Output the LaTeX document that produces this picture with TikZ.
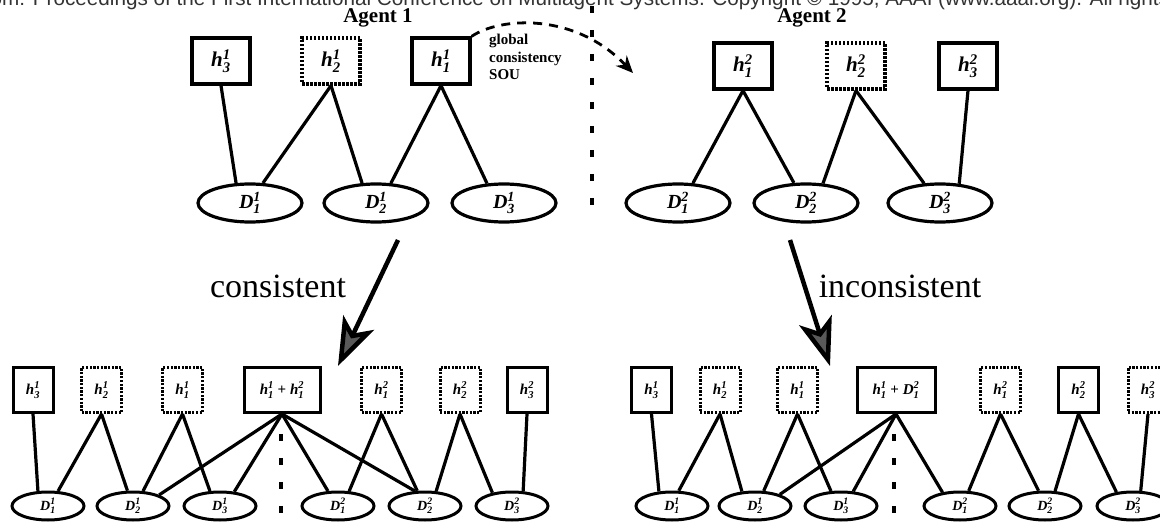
\documentclass[tikz,border=0pt]{standalone}
\usepackage{amsmath}
\usepackage{fontspec}
\setmainfont{Liberation Serif}
\newfontfamily\headfont{Liberation Sans}
\usetikzlibrary{shapes.geometric,arrows.meta}
\newcommand\hyp[3]{\textbf{\textit{#1}}$^{\textbf{\textit{#3}}}_{\textbf{\textit{#2}}}$}
\begin{document}
\begin{tikzpicture}[x=1pt,y=-1pt]
\def\ytop{61}
\def\ybot{390}
\tikzset{base/.style={draw,line width=3.2pt,inner sep=0pt},
hbox/.style={base,minimum width=58pt,minimum height=46pt,font=\fontsize{21}{24}\selectfont},
hdot/.style={hbox,dash pattern=on 2.5pt off 1.5pt},
dom/.style={base,ellipse,minimum width=104pt,minimum height=38pt,font=\fontsize{20}{24}\selectfont},
sbox/.style={base,line width=3pt,minimum width=40pt,minimum height=45pt,font=\fontsize{15}{18}\selectfont},
sdot/.style={sbox,dash pattern=on 2.3pt off 1.4pt},
sdom/.style={base,line width=3pt,ellipse,minimum width=72pt,minimum height=28pt,font=\fontsize{14}{17}\selectfont},
link/.style={line width=3.2pt},
sepline/.style={line width=4pt,dash pattern=on 7pt off 17pt},
big/.style={line width=4.5pt,-{Stealth[length=48pt,width=34pt,inset=12pt,fill=black!65]}},
soulink/.style={line width=2.8pt,dash pattern=on 9pt off 7pt,-{Stealth[length=17pt,width=15pt]}},
agent/.style={font=\fontsize{21}{24}\selectfont\bfseries},
verdict/.style={font=\fontsize{34}{40}\selectfont}}
\useasboundingbox (0,0) rectangle (1160,529);
\node[anchor=base west,inner sep=0pt,text=black!80,font=\headfont\fontsize{20.7}{24}\selectfont] at (-29,6) (HDR) {From: Proceedings of the First International Conference on Multiagent Systems. Copyright \textcopyright{} 1995, AAAI (www.aaai.org). All rights reserved.};
% agent 1
\node[agent] at (378,18) (AG1) {Agent 1};
\node[hbox] at (221,\ytop) (HA3) {\hyp{h}{3}{1}};
\node[hdot] at (331,\ytop) (HA2) {\hyp{h}{2}{1}};
\node[hbox] at (441,\ytop) (HA1) {\hyp{h}{1}{1}};
\node[dom] at (250,203) (DA1) {\hyp{D}{1}{1}};
\node[dom] at (376,203) (DA2) {\hyp{D}{2}{1}};
\node[dom] at (504,203) (DA3) {\hyp{D}{3}{1}};
\path[link] (HA3.south) edge (DA1.125)
 (HA2.south) edge (DA1.57) edge (DA2.125)
 (HA1.south) edge (DA2.53) edge (DA3.131);
\node[anchor=north west,align=left,inner sep=0pt,font=\fontsize{15}{17.5}\selectfont\bfseries] at (489,34) (SOU) {global\\consistency\\SOU};
\coordinate (SOUTIP) at (633,73);
\draw[soulink] (HA1.north east) .. controls (500,17) and (575,12) .. (SOUTIP);
\draw[sepline] (592,6) -- (592,215);
% agent 2
\node[agent] at (812,18) (AG2) {Agent 2};
\node[hbox] at (743,66) (HB1) {\hyp{h}{1}{2}};
\node[hdot] at (856,66) (HB2) {\hyp{h}{2}{2}};
\node[hbox] at (968,66) (HB3) {\hyp{h}{3}{2}};
\node[dom] at (678,203) (DB1) {\hyp{D}{1}{2}};
\node[dom] at (806,203) (DB2) {\hyp{D}{2}{2}};
\node[dom] at (940,203) (DB3) {\hyp{D}{3}{2}};
\path[link] (HB1.south) edge (DB1.53) edge (DB2.121)
 (HB2.south) edge (DB2.49) edge (DB3.129)
 (HB3.south) edge (DB3.45);
% the two outcomes
\coordinate (CFROM) at (398,240);
\coordinate (CTO) at (338,366);
\coordinate (IFROM) at (790,240);
\coordinate (ITO) at (830,366);
\draw[big] (CFROM) -- (CTO);
\draw[big] (IFROM) -- (ITO);
\node[verdict] at (278,286) (CONS) {consistent};
\node[verdict] at (900,286) (INCONS) {inconsistent};
% consistent
\node[sbox] at (33,\ybot) (CHA3) {\hyp{h}{3}{1}};
\node[sdot] at (101.5,\ybot) (CHA2) {\hyp{h}{2}{1}};
\node[sdot] at (182.5,\ybot) (CHA1) {\hyp{h}{1}{1}};
\node[sbox,minimum width=76pt] at (282,\ybot) (CHM) {\hyp{h}{1}{1} \textbf{+} \hyp{h}{1}{2}};
\node[sdot] at (381.5,\ybot) (CHB1) {\hyp{h}{1}{2}};
\node[sdot] at (460,\ybot) (CHB2) {\hyp{h}{2}{2}};
\node[sbox] at (527,\ybot) (CHB3) {\hyp{h}{3}{2}};
\node[sdom] at (48,506) (CDA1) {\hyp{D}{1}{1}};
\node[sdom] at (133,506) (CDA2) {\hyp{D}{2}{1}};
\node[sdom] at (220,506) (CDA3) {\hyp{D}{3}{1}};
\node[sdom] at (338,506) (CDB1) {\hyp{D}{1}{2}};
\node[sdom] at (425,506) (CDB2) {\hyp{D}{2}{2}};
\node[sdom] at (512,506) (CDB3) {\hyp{D}{3}{2}};
\path[link] (CHA3.south) edge (CDA1.124)
 (CHA2.south) edge (CDA1.56) edge (CDA2.110)
 (CHA1.south) edge (CDA2.56) edge (CDA3.124)
 (CHM.south) edge (CDA2.23) edge (CDA3.45) edge (CDB1.124) edge (CDB2.124)
 (CHB1.south) edge (CDB1.53) edge (CDB2.117)
 (CHB2.south) edge (CDB2.53) edge (CDB3.146)
 (CHB3.south) edge (CDB3.53);
\draw[sepline] (281,434) -- (281,515);
% inconsistent
\node[sbox] at (651.5,\ybot) (IHA3) {\hyp{h}{3}{1}};
\node[sdot] at (720,\ybot) (IHA2) {\hyp{h}{2}{1}};
\node[sdot] at (797.5,\ybot) (IHA1) {\hyp{h}{1}{1}};
\node[sbox,minimum width=78pt] at (896,\ybot) (IHM) {\hyp{h}{1}{1} \textbf{+} \hyp{D}{1}{2}};
\node[sdot] at (1000.5,\ybot) (IHB1) {\hyp{h}{1}{2}};
\node[sbox] at (1078.5,\ybot) (IHB2) {\hyp{h}{2}{2}};
\node[sdot] at (1148,\ybot) (IHB3) {\hyp{h}{3}{2}};
\node[sdom] at (672,506) (IDA1) {\hyp{D}{1}{1}};
\node[sdom] at (755,506) (IDA2) {\hyp{D}{2}{1}};
\node[sdom] at (841,506) (IDA3) {\hyp{D}{3}{1}};
\node[sdom] at (960,506) (IDB1) {\hyp{D}{1}{2}};
\node[sdom] at (1045,506) (IDB2) {\hyp{D}{2}{2}};
\node[sdom] at (1133,506) (IDB3) {\hyp{D}{3}{2}};
\path[link] (IHA3.south) edge (IDA1.132)
 (IHA2.south) edge (IDA1.66) edge (IDA2.132)
 (IHA1.south) edge (IDA2.60) edge (IDA3.124)
 (IHM.south) edge (IDA2.25) edge (IDA3.50) edge (IDB1.142)
 (IHB1.south) edge (IDB1.60) edge (IDB2.113)
 (IHB2.south) edge (IDB2.56) edge (IDB3.140)
 (IHB3.south) edge (IDB3.63);
\draw[sepline] (894,434) -- (894,515);
\end{tikzpicture}
\end{document}
